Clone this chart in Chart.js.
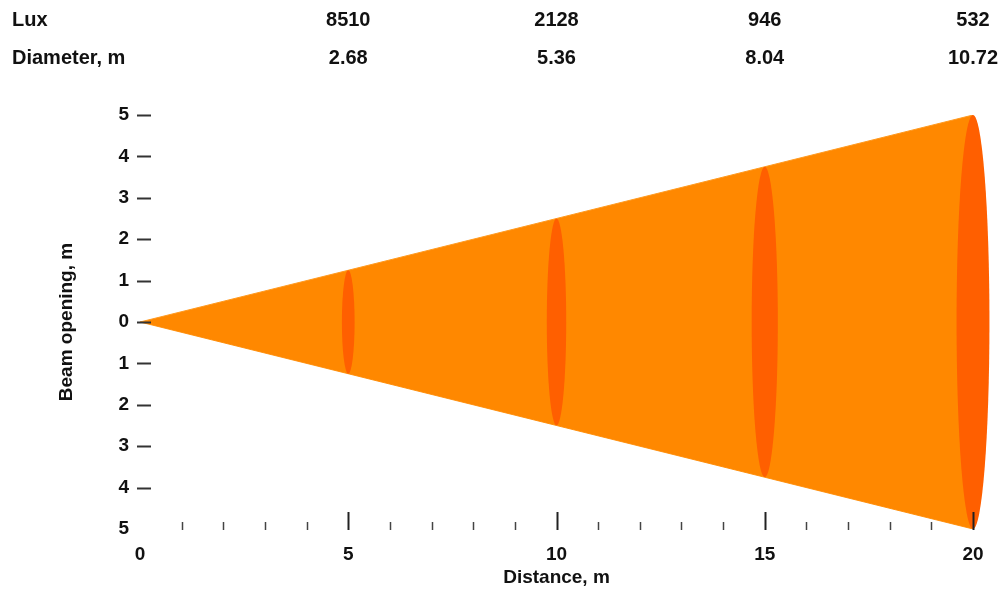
<!DOCTYPE html>
<html>
<head>
<meta charset="utf-8">
<script src="https://cdn.jsdelivr.net/npm/chart.js@4/dist/chart.umd.min.js"></script>
<style>
  html, body { margin: 0; padding: 0; background: #fff; }
  #wrap { width: 1008px; height: 592px; position: relative; }
</style>
</head>
<body>
<div id="wrap"><canvas id="beam"></canvas></div>
<script>
// beam data
const distances = [0, 5, 10, 15, 20];
const beamOpening = [0, 1.25, 2.5, 3.75, 5];
const ringDistances = [5, 10, 15, 20];
const ringOpening = [1.25, 2.5, 3.75, 5];
const luxValues = ['8510', '2128', '946', '532'];
const diameterValues = ['2.68', '5.36', '8.04', '10.72'];

const FONT = 'Liberation Sans, Arial, sans-serif';
const upper = distances.map((d, i) => ({x: d, y: beamOpening[i]}));
const lower = distances.map((d, i) => ({x: d, y: -beamOpening[i]}));

const beamExtras = {
	id: 'beamExtras',
	afterDatasetsDraw(chart) {
		const ctx = chart.ctx;
		const xs = chart.scales.x, ys = chart.scales.y;
		ctx.save();
		// cross sections of the beam
		ringDistances.forEach((d, i) => {
			const cx = xs.getPixelForValue(d);
			const cy = ys.getPixelForValue(0);
			const ry = cy - ys.getPixelForValue(ringOpening[i]);
			const rx = 3 + ry * 0.065;
			ctx.beginPath();
			ctx.ellipse(cx, cy, rx, ry, 0, 0, Math.PI * 2);
			ctx.fillStyle = '#ff5f00';
			ctx.fill();
		});
		// y tick dashes
		ctx.strokeStyle = '#333';
		ctx.lineWidth = 2;
		for (let v = -4; v <= 5; v++) {
			const py = Math.round(ys.getPixelForValue(v)) + 0.5;
			ctx.beginPath();
			ctx.moveTo(xs.left - 3, py);
			ctx.lineTo(xs.left + 11, py);
			ctx.stroke();
		}
		// x ticks
		const base = ys.getPixelForValue(-5);
		for (let v = 1; v <= 20; v++) {
			const px = Math.round(xs.getPixelForValue(v)) + 0.5;
			const major = v % 5 === 0;
			ctx.lineWidth = major ? 2 : 1.5;
			ctx.strokeStyle = major ? '#222' : '#444';
			ctx.beginPath();
			ctx.moveTo(px, base + 1);
			ctx.lineTo(px, base - (major ? 17 : 7));
			ctx.stroke();
		}
		ctx.restore();
	},
	afterDraw(chart) {
		const ctx = chart.ctx;
		const xs = chart.scales.x;
		ctx.save();
		ctx.font = 'bold 20px ' + FONT;
		ctx.fillStyle = '#111';
		ctx.textBaseline = 'middle';
		ctx.textAlign = 'left';
		ctx.fillText('Lux', 12, 20);
		ctx.fillText('Diameter, m', 12, 58);
		ctx.textAlign = 'center';
		ringDistances.forEach((d, i) => {
			const px = xs.getPixelForValue(d);
			ctx.fillText(luxValues[i], px, 20);
			ctx.fillText(diameterValues[i], px, 58);
		});
		ctx.restore();
	}
};

const chartGraph = new Chart(document.getElementById('beam'), {
	type: 'line',
	data: {
		datasets: [{
			label: 'upper',
			data: upper,
			borderWidth: 1,
			borderColor: '#ff9a20',
			backgroundColor: '#ff8800',
			pointRadius: 0,
			fill: '+1'
		}, {
			label: 'lower',
			data: lower,
			borderWidth: 1,
			borderColor: '#ff9a20',
			backgroundColor: '#ff8800',
			pointRadius: 0,
			fill: false
		}]
	},
	options: {
		responsive: true,
		maintainAspectRatio: false,
		animation: false,
		layout: { padding: { top: 115, right: 35, bottom: 0, left: 0 } },
		plugins: {
			legend: { display: false },
			tooltip: { enabled: false }
		},
		scales: {
			x: {
				type: 'linear',
				min: 0,
				max: 20,
				border: { display: false },
				grid: { display: false, drawTicks: false },
				ticks: {
					stepSize: 5,
					padding: 14,
					color: '#111',
					font: { family: FONT, size: 19, weight: 'bold' }
				},
				title: {
					display: true,
					text: 'Distance, m',
					color: '#111',
					padding: { top: 0, bottom: 3 },
					font: { family: FONT, size: 19, weight: 'bold' }
				},
				afterFit(scale) { scale.height = 63; }
			},
			y: {
				type: 'linear',
				min: -5,
				max: 5,
				border: { display: false },
				grid: { display: false, drawTicks: false },
				ticks: {
					stepSize: 1,
					padding: 11,
					color: '#111',
					font: { family: FONT, size: 19, weight: 'bold' },
					callback: v => Math.abs(v)
				},
				title: {
					display: true,
					text: 'Beam opening, m',
					color: '#111',
					padding: { top: 55, bottom: 0 },
					font: { family: FONT, size: 19, weight: 'bold' }
				},
				afterFit(scale) { scale.width = 140; }
			}
		}
	},
	plugins: [beamExtras]
});
</script>
</body>
</html>
